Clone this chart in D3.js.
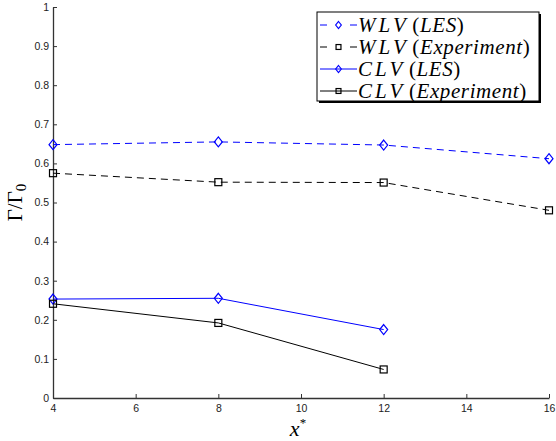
<!DOCTYPE html>
<html>
<head>
<meta charset="utf-8">
<script src="https://cdn.jsdelivr.net/npm/d3@7"></script>
<style>
  body { margin: 0; background: #fff; }
  svg { display: block; }
</style>
</head>
<body>
<svg width="556" height="441"></svg>
<script>
// data
const xWLV = [4, 8, 12, 16];
const wlvLES = [0.648, 0.655, 0.647, 0.612];
const wlvExp = [0.575, 0.552, 0.551, 0.480];
const xCLV = [4, 8, 12];
const clvLES = [0.253, 0.255, 0.175];
const clvExp = [0.241, 0.192, 0.073];
const xTicks = [4, 6, 8, 10, 12, 14, 16];
const yTicks = [0, 0.1, 0.2, 0.3, 0.4, 0.5, 0.6, 0.7, 0.8, 0.9, 1];

const svg = d3.select('svg');

// plot box
const plotLeft = 53, plotRight = 549, plotTop = 7, plotBottom = 398;

const x = d3.scaleLinear().domain([4, 16]).range([plotLeft, plotRight]);
const y = d3.scaleLinear().domain([0, 1]).range([plotBottom, plotTop]);

// axes (ticks pointing inward, MATLAB style)
const xAxis = svg.append('g')
    .attr('transform', `translate(0, ${plotBottom})`)
    .call(d3.axisBottom(x).tickValues(xTicks).tickSizeInner(-4).tickSizeOuter(0).tickPadding(7));
const yAxis = svg.append('g')
    .attr('transform', `translate(${plotLeft}, 0)`)
    .call(d3.axisLeft(y).tickValues(yTicks).tickFormat(d3.format('')).tickSizeInner(-4).tickSizeOuter(0).tickPadding(4));

[xAxis, yAxis].forEach(a => {
  a.select('.domain').attr('stroke', '#333').attr('stroke-width', 1.3);
  a.selectAll('.tick line').attr('stroke', '#333');
  a.selectAll('.tick text')
    .attr('font-family', 'Liberation Sans, Arial, sans-serif')
    .attr('font-size', 10.5)
    .attr('fill', '#222');
});

// series
const series = [
  { name: 'WLV', tag: 'LES', xs: xWLV, ys: wlvLES, color: '#0000ff', dash: '7,5', marker: 'diamond' },
  { name: 'WLV', tag: 'Experiment', xs: xWLV, ys: wlvExp, color: '#000', dash: '7,5', marker: 'square' },
  { name: 'CLV', tag: 'LES', xs: xCLV, ys: clvLES, color: '#0000ff', dash: null, marker: 'diamond' },
  { name: 'CLV', tag: 'Experiment', xs: xCLV, ys: clvExp, color: '#000', dash: null, marker: 'square' }
];

const line = d3.line().x(d => x(d[0])).y(d => y(d[1]));

function drawMarker(g, type, cx, cy, color, k = 1) {
  if (type === 'diamond') {
    g.append('path')
      .attr('d', `M${cx},${cy - 5 * k}L${cx + 4 * k},${cy}L${cx},${cy + 5 * k}L${cx - 4 * k},${cy}Z`)
      .attr('fill', 'none').attr('stroke', color).attr('stroke-width', 1.2);
  } else {
    g.append('rect')
      .attr('x', cx - 3.5 * k).attr('y', cy - 3.5 * k)
      .attr('width', 7 * k).attr('height', 7 * k)
      .attr('fill', 'none').attr('stroke', color).attr('stroke-width', 1.2);
  }
}

series.forEach(s => {
  const pts = s.xs.map((v, i) => [v, s.ys[i]]);
  svg.append('path')
    .attr('d', line(pts))
    .attr('fill', 'none')
    .attr('stroke', s.color)
    .attr('stroke-width', 1)
    .attr('stroke-dasharray', s.dash);
  const mg = svg.append('g');
  pts.forEach(p => drawMarker(mg, s.marker, x(p[0]), y(p[1]), s.color));
});

// axis labels
svg.append('text')
  .attr('transform', `translate(22, ${(plotTop + plotBottom) / 2}) rotate(-90)`)
  .attr('text-anchor', 'middle')
  .attr('font-family', 'Liberation Serif, Times New Roman, serif')
  .attr('font-size', 21)
  .html('Γ/Γ<tspan font-size="15" dy="4">0</tspan>');

svg.append('text')
  .attr('x', 298)
  .attr('y', 436)
  .attr('text-anchor', 'middle')
  .attr('font-family', 'Liberation Serif, Times New Roman, serif')
  .attr('font-style', 'italic')
  .attr('font-size', 22)
  .html('x<tspan font-size="13" dy="-9" font-style="normal">*</tspan>');

// legend
const lg = svg.append('g');
const lx = 317, ly = 12, lw = 222, lh = 89;
lg.append('rect').attr('x', lx + 2).attr('y', ly + 2).attr('width', lw).attr('height', lh).attr('fill', '#000');
lg.append('rect').attr('x', lx).attr('y', ly).attr('width', lw).attr('height', lh)
  .attr('fill', '#fff').attr('stroke', '#000').attr('stroke-width', 1);

series.forEach((s, i) => {
  const cy = ly + 13 + i * 22;
  lg.append('line')
    .attr('x1', lx + 3).attr('x2', lx + 40)
    .attr('y1', cy).attr('y2', cy)
    .attr('stroke', s.color).attr('stroke-width', 1)
    .attr('stroke-dasharray', s.dash ? '7,23,7' : null);
  drawMarker(lg, s.marker, lx + 21.5, cy, s.color, 0.7);
  const t = lg.append('text')
    .attr('x', lx + 41).attr('y', cy + 6.5)
    .attr('font-family', 'Liberation Serif, Times New Roman, serif')
    .attr('font-size', 21)
    .attr('letter-spacing', 0.6);
  t.append('tspan').attr('font-style', 'italic').text(s.name.split('').join('\u200a'));
  t.append('tspan').text(' (');
  t.append('tspan').attr('font-style', 'italic').text(s.tag);
  t.append('tspan').text(')');
});
</script>
</body>
</html>
